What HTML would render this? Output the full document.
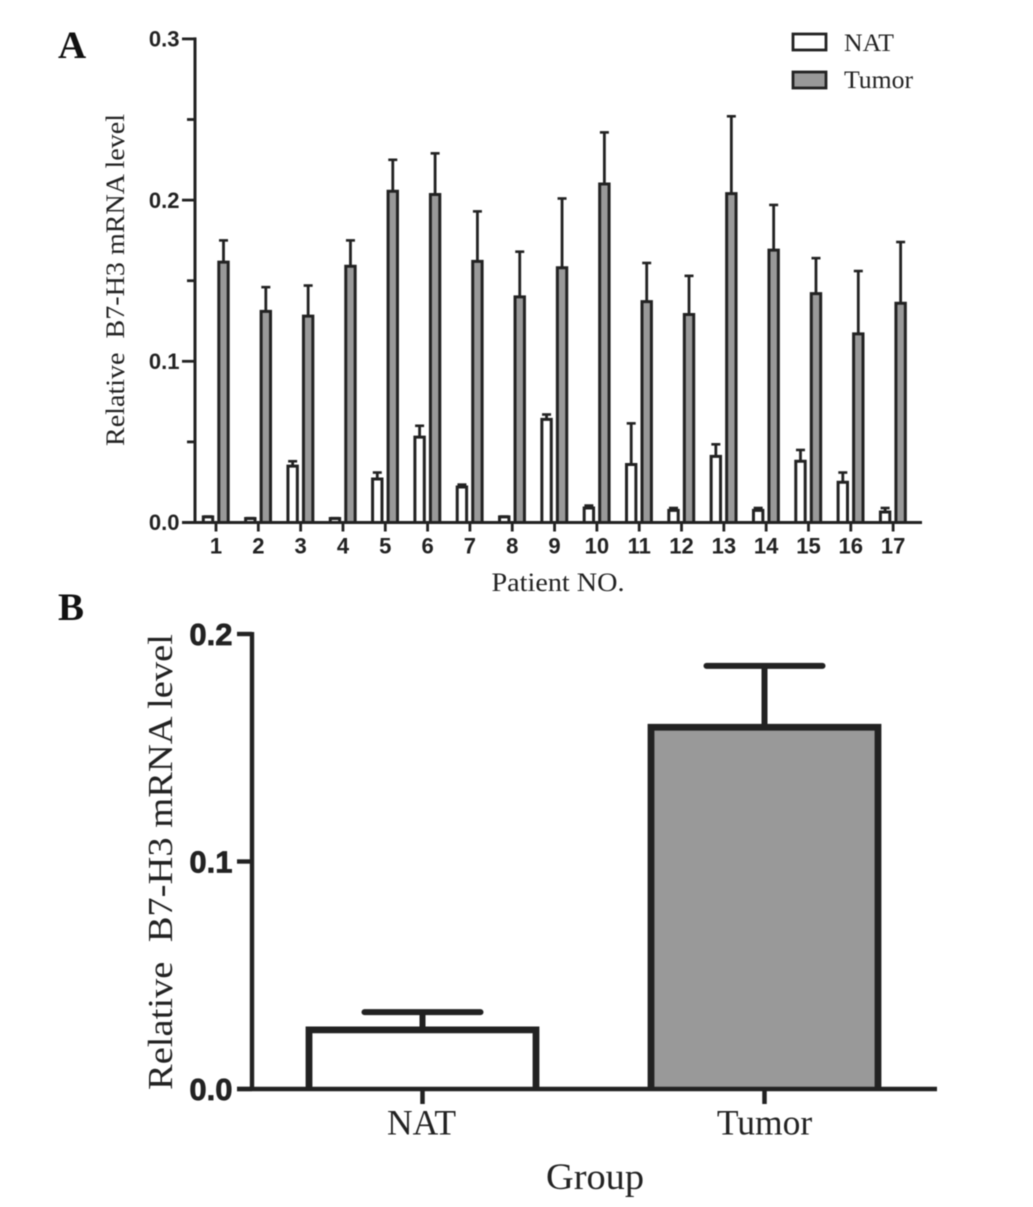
<!DOCTYPE html>
<html><head><meta charset="utf-8"><title>B7-H3 mRNA level</title>
<style>
html,body{margin:0;padding:0;background:#fff;width:1033px;height:1207px;overflow:hidden}
svg{display:block;filter:blur(0.4px)}
.serif{font-family:"Liberation Serif",serif;fill:#222}
.sans{font-family:"Liberation Sans",sans-serif;font-weight:bold;fill:#222}
</style></head>
<body>
<svg id="chart" width="1033" height="1207" viewBox="0 0 1033 1207" xmlns="http://www.w3.org/2000/svg">
<text class="serif" x="58" y="58" font-size="39" font-weight="bold" style="fill:#111">A</text>
<text class="serif" x="58" y="620" font-size="39" font-weight="bold" style="fill:#111">B</text>
<text class="serif" transform="translate(124,280) rotate(-90)" text-anchor="middle" font-size="26" textLength="332" lengthAdjust="spacingAndGlyphs" xml:space="preserve">Relative  B7-H3 mRNA level</text>
<text class="serif" x="558" y="591" text-anchor="middle" font-size="26" textLength="133" lengthAdjust="spacingAndGlyphs">Patient NO.</text>
<text class="serif" transform="translate(172,862) rotate(-90)" text-anchor="middle" font-size="35" textLength="456" lengthAdjust="spacingAndGlyphs" xml:space="preserve">Relative  B7-H3 mRNA level</text>
<text class="serif" x="595" y="1189" text-anchor="middle" font-size="37" textLength="98" lengthAdjust="spacingAndGlyphs">Group</text>
<rect x="793" y="34" width="33" height="16" fill="#fff" stroke="#222" stroke-width="2.8"/>
<text class="serif" x="844" y="51" font-size="25" textLength="50" lengthAdjust="spacingAndGlyphs">NAT</text>
<rect x="793" y="72" width="33" height="16" fill="#999" stroke="#222" stroke-width="2.8"/>
<text class="serif" x="844" y="88" font-size="25" textLength="69" lengthAdjust="spacingAndGlyphs">Tumor</text>
</svg>
<script>
const patients = ["1","2","3","4","5","6","7","8","9","10","11","12","13","14","15","16","17"];
const natMeans = [0.0035,0.0025,0.035,0.0025,0.027,0.053,0.022,0.0035,0.064,0.009,0.036,0.0075,0.041,0.0075,0.038,0.025,0.0065];
const natErrorTops = [0.0037,0.0027,0.038,0.0027,0.031,0.060,0.0235,0.0037,0.067,0.0105,0.0615,0.009,0.0485,0.009,0.045,0.031,0.009];
const tumorMeans = [0.1615,0.131,0.128,0.159,0.2055,0.2035,0.162,0.140,0.158,0.210,0.137,0.129,0.204,0.169,0.142,0.117,0.136];
const tumorErrorTops = [0.175,0.146,0.147,0.175,0.225,0.229,0.193,0.168,0.201,0.242,0.161,0.153,0.252,0.197,0.164,0.156,0.174];
const yTicksA = [0,0.05,0.1,0.15,0.2,0.25,0.3];
const yTickLabelsA = ["0.0","","0.1","","0.2","","0.3"];
const groups = ["NAT","Tumor"];
const groupMeans = [0.026,0.159];
const groupErrorTops = [0.0338,0.186];
const yTicksB = [0,0.1,0.2];
const yTickLabelsB = ["0.0","0.1","0.2"];

const svg = document.getElementById('chart');
const NS = 'http://www.w3.org/2000/svg';
function add(tag, attrs, name, parent) {
  const el = document.createElementNS(NS, tag);
  for (const k in attrs) el.setAttribute(k, attrs[k]);
  
  
  (parent || svg).appendChild(el);
  return el;
}
function line(x1, y1, x2, y2, w, name, parent) {
  return add('line', {x1, y1, x2, y2, stroke: '#222', 'stroke-width': w}, name, parent);
}
function label(x, y, text, size, anchor, cls, name, parent) {
  const t = add('text', {x, y, 'font-size': size, 'text-anchor': anchor, class: cls}, name, parent);
  t.textContent = text;
  return t;
}
function openBar(x0, x1, top, bottom, fill, w, name, parent) {
  return add('path', {d: 'M' + x0 + ' ' + bottom + 'V' + top + 'H' + x1 + 'V' + bottom, fill, stroke: '#222', 'stroke-width': w}, name, parent);
}

/* Panel A */
const yA = v => 522.5 - v * 1612;
const xA = i => 216 + i * 42.32;
const gA = add('g', {}, 'panel-a-chart');
function barA(cx, mean, top, fill, name) {
  const yb = yA(mean), ye = yA(top);
  line(cx, yb, cx, ye, 2.8, name + '-error-stem', gA);
  line(cx - 4.5, ye, cx + 4.5, ye, 2.6, name + '-error-cap', gA);
  openBar(cx - 4.7, cx + 4.7, yb, yA(0), fill, 3, name, gA);
}
patients.forEach((p, i) => {
  barA(xA(i) - 8, natMeans[i], natErrorTops[i], '#fff', 'bar-nat-' + p);
  barA(xA(i) + 7.5, tumorMeans[i], tumorErrorTops[i], '#999', 'bar-tumor-' + p);
  line(xA(i), yA(0), xA(i), yA(0) + 9, 2.8, 'a-x-tick-' + p, gA);
  label(xA(i), 553.5, p, 22, 'middle', 'sans', 'a-x-tick-label-' + p, gA);
});
line(195, yA(0.3) - 1.5, 195, yA(0) + 1.5, 3, 'a-y-axis', gA);
line(182, yA(0), 922, yA(0), 3, 'a-x-axis', gA);
yTicksA.forEach((v, i) => {
  const major = yTickLabelsA[i] !== '';
  line(major ? 182 : 187, yA(v), 195, yA(v), 2.8, 'a-y-tick-' + v, gA);
  if (major) label(179.5, yA(v) + 7.7, yTickLabelsA[i], 22, 'end', 'sans', 'a-y-tick-label-' + yTickLabelsA[i], gA);
});

/* Panel B */
const yB = v => 1089 - v * 2275;
const xB = i => 422.5 + i * 342;
const gB = add('g', {}, 'panel-b-chart');
groups.forEach((g, i) => {
  const cx = xB(i), yb = yB(groupMeans[i]), ye = yB(groupErrorTops[i]);
  const n = g.toLowerCase();
  line(cx, yb, cx, ye, 6, 'b-error-stem-' + n, gB);
  add('line', {x1: cx - 58, y1: ye, x2: cx + 58, y2: ye, stroke: '#222', 'stroke-width': 6, 'stroke-linecap': 'round'}, 'b-error-cap-' + n, gB);
  openBar(cx - 113.5, cx + 113.5, yb, yB(0), i ? '#999' : '#fff', 6.8, 'bar-' + n, gB);
  line(cx, yB(0), cx, yB(0) + 15, 4.5, 'b-x-tick-' + n, gB);
  label(cx - (i ? 0 : 1), 1134.5, g, 35.5, 'middle', 'serif', 'b-x-tick-label-' + n, gB);
});
line(252, yB(0.2) - 2, 252, yB(0) + 2, 4.4, 'b-y-axis', gB);
line(237, yB(0), 937, yB(0), 4.4, 'b-x-axis', gB);
yTicksB.forEach((v, i) => {
  line(237, yB(v), 252, yB(v), 4.4, 'b-y-tick-' + yTickLabelsB[i], gB);
  const t = label(232.5, yB(v) + 11, yTickLabelsB[i], 31, 'end', 'sans', 'b-y-tick-label-' + yTickLabelsB[i], gB);
  t.setAttribute('stroke', '#222');
  t.setAttribute('stroke-width', '0.7');
});
</script>
</body></html>
